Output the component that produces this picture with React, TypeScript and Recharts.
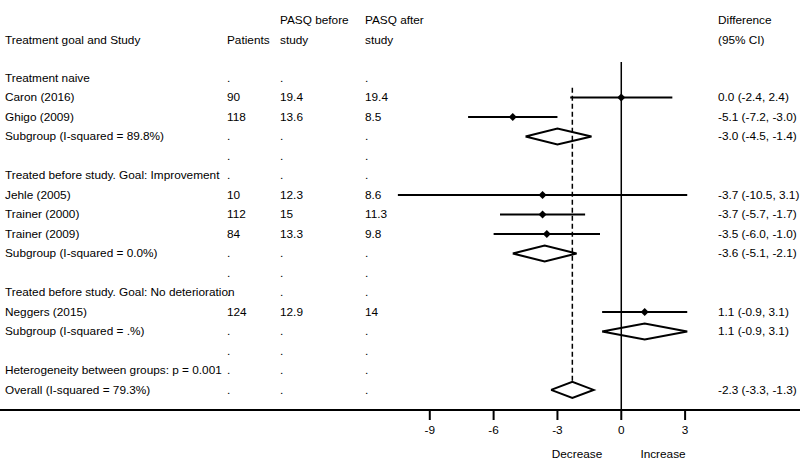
import {
	ComposedChart,
	Scatter,
	XAxis,
	YAxis,
	ErrorBar,
	ReferenceLine,
	Customized,
} from "recharts";

// table rows, top to bottom
const rowNames = [
	"Treatment naive",
	"Caron (2016)",
	"Ghigo (2009)",
	"Subgroup (I-squared = 89.8%)",
	"",
	"Treated before study. Goal: Improvement",
	"Jehle (2005)",
	"Trainer (2000)",
	"Trainer (2009)",
	"Subgroup (I-squared = 0.0%)",
	"",
	"Treated before study. Goal: No deterioration",
	"Neggers (2015)",
	"Subgroup (I-squared = .%)",
	"",
	"Heterogeneity between groups: p = 0.001",
	"Overall (I-squared = 79.3%)",
];
const patients = [".", "90", "118", ".", ".", ".", "10", "112", "84", ".", ".", ".", "124", ".", ".", ".", "."];
const pasqBefore = [".", "19.4", "13.6", ".", ".", ".", "12.3", "15", "13.3", ".", ".", ".", "12.9", ".", ".", ".", "."];
const pasqAfter = [".", "19.4", "8.5", ".", ".", ".", "8.6", "11.3", "9.8", ".", ".", ".", "14", ".", ".", ".", "."];
const ciLabels = [
	"",
	"0.0 (-2.4, 2.4)",
	"-5.1 (-7.2, -3.0)",
	"-3.0 (-4.5, -1.4)",
	"",
	"",
	"-3.7 (-10.5, 3.1)",
	"-3.7 (-5.7, -1.7)",
	"-3.5 (-6.0, -1.0)",
	"-3.6 (-5.1, -2.1)",
	"",
	"",
	"1.1 (-0.9, 3.1)",
	"1.1 (-0.9, 3.1)",
	"",
	"",
	"-2.3 (-3.3, -1.3)",
];

// single studies
const studyRows = [1, 2, 6, 7, 8, 12];
const studyEst = [0.0, -5.1, -3.7, -3.7, -3.5, 1.1];
const studyLow = [-2.4, -7.2, -10.5, -5.7, -6.0, -0.9];
const studyHigh = [2.4, -3.0, 3.1, -1.7, -1.0, 3.1];

// pooled estimates (diamonds)
const poolRows = [3, 9, 13, 16];
const poolEst = [-3.0, -3.6, 1.1, -2.3];
const poolLow = [-4.5, -5.1, -0.9, -3.3];
const poolHigh = [-1.4, -2.1, 3.1, -1.3];

const overallEst = -2.3;
const xTicks = [-9, -6, -3, 0, 3];

const FONT = "'Liberation Sans', Arial, sans-serif";
const FS = 11.8;
const DIAMOND_HALF = 0.41; // in row units

const tableData = rowNames.map((name, i) => ({
	x: -29,
	y: i,
	name,
	patients: patients[i],
	before: pasqBefore[i],
	after: pasqAfter[i],
	ci: ciLabels[i],
}));

const studyData = studyRows.map((r, i) => ({
	x: studyEst[i],
	y: r,
	err: [studyEst[i] - studyLow[i], studyHigh[i] - studyEst[i]],
}));

const diamonds = poolRows.map((r, i) => [
	{ x: poolLow[i], y: r },
	{ x: poolEst[i], y: r - DIAMOND_HALF },
	{ x: poolHigh[i], y: r },
	{ x: poolEst[i], y: r + DIAMOND_HALF },
	{ x: poolLow[i], y: r },
]);

function TableRow(props: any) {
	const p = props.payload ?? props;
	const cy = props.cy;
	return (
		<g fontFamily={FONT} fontSize={FS} fill="#000">
			<text x={5} y={cy} dominantBaseline="central">{p.name}</text>
			<text x={227} y={cy} dominantBaseline="central">{p.patients}</text>
			<text x={280} y={cy} dominantBaseline="central">{p.before}</text>
			<text x={365} y={cy} dominantBaseline="central">{p.after}</text>
			<text x={718} y={cy} dominantBaseline="central">{p.ci}</text>
		</g>
	);
}

function Marker(props: any) {
	const { cx, cy } = props;
	const s = 4;
	return (
		<polygon
			points={`${cx - s},${cy} ${cx},${cy - s} ${cx + s},${cy} ${cx},${cy + s}`}
			fill="#000"
		/>
	);
}

function Header() {
	return (
		<g fontFamily={FONT} fontSize={FS} fill="#000">
			<text x={5} y={40} dominantBaseline="central">Treatment goal and Study</text>
			<text x={227} y={40} dominantBaseline="central">Patients</text>
			<text x={280} y={20} dominantBaseline="central">PASQ before</text>
			<text x={280} y={40} dominantBaseline="central">study</text>
			<text x={365} y={20} dominantBaseline="central">PASQ after</text>
			<text x={365} y={40} dominantBaseline="central">study</text>
			<text x={718} y={20} dominantBaseline="central">Difference</text>
			<text x={718} y={40} dominantBaseline="central">(95% CI)</text>
			<text x={577} y={454} textAnchor="middle" dominantBaseline="central">Decrease</text>
			<text x={663} y={454} textAnchor="middle" dominantBaseline="central">Increase</text>
		</g>
	);
}

export default function App() {
	return (
		<div style={{ position: "absolute", left: 0, top: 0, background: "#fff" }}>
			<ComposedChart
				width={800}
				height={462}
				margin={{ top: 62, right: 0, bottom: 22, left: 0 }}
			>
				<XAxis
					type="number"
					dataKey="x"
					domain={[-29.2, 8.4]}
					allowDataOverflow
					ticks={xTicks}
					height={30}
					tickSize={10}
					tickMargin={6}
					tick={{ fill: "#000", fontSize: FS, fontFamily: FONT }}
					axisLine={{ stroke: "#000", strokeWidth: 2 }}
					tickLine={{ stroke: "#000", strokeWidth: 2 }}
				/>
				<XAxis
					xAxisId="top"
					orientation="top"
					type="number"
					domain={[-29.2, 8.4]}
					height={0}
					tick={false}
					tickLine={false}
					axisLine={{ stroke: "#000", strokeWidth: 2 }}
				/>
				<YAxis
					type="number"
					dataKey="y"
					domain={[-0.82, 17.03]}
					reversed
					hide
					width={0}
				/>
				<ReferenceLine x={0} stroke="#000" strokeWidth={1.5} />
				<ReferenceLine
					segment={[
						{ x: overallEst, y: 0.5 },
						{ x: overallEst, y: 16 - DIAMOND_HALF },
					]}
					stroke="#000"
					strokeWidth={1.5}
					strokeDasharray="5 3"
				/>
				<Scatter
					data={tableData}
					shape={TableRow}
					isAnimationActive={false}
				/>
				<Scatter data={studyData} shape={Marker} isAnimationActive={false}>
					<ErrorBar
						dataKey="err"
						direction="x"
						width={0}
						stroke="#000"
						strokeWidth={2}
						isAnimationActive={false}
					/>
				</Scatter>
				{diamonds.map((d, i) => (
					<Scatter
						key={i}
						data={d}
						line={{ stroke: "#000", strokeWidth: 2 }}
						lineType="joint"
						shape={() => <g />}
						isAnimationActive={false}
					/>
				))}
				<Customized component={Header} />
			</ComposedChart>
		</div>
	);
}
